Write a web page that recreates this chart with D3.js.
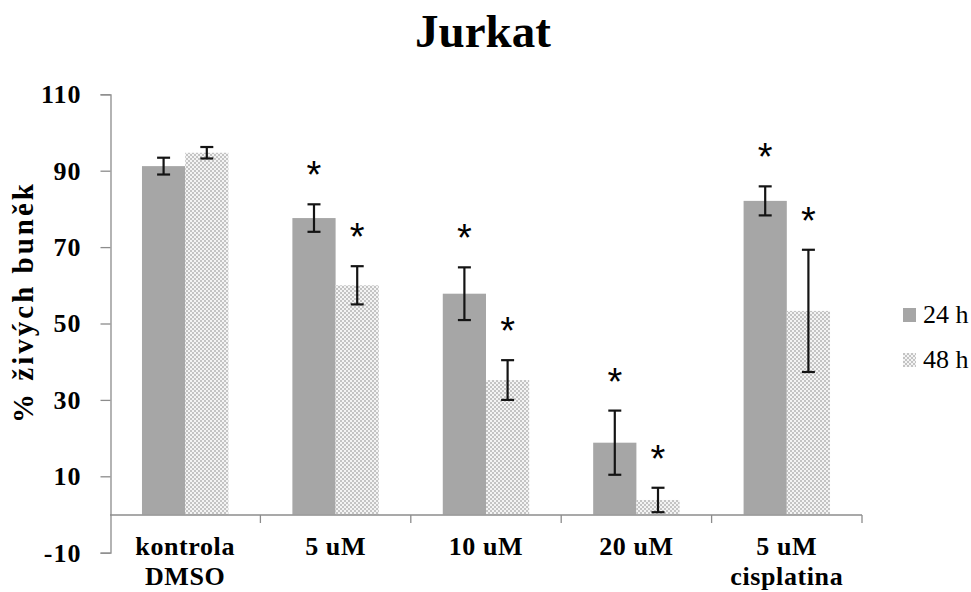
<!DOCTYPE html>
<html>
<head>
<meta charset="utf-8">
<script src="https://cdn.jsdelivr.net/npm/d3@7"></script>
<style>
  body { margin: 0; background: #fff; }
</style>
</head>
<body>
<div id="chart"></div>
<script>
// chart data
var categories = [["kontrola", "DMSO"], ["5 uM"], ["10 uM"], ["20 uM"], ["5 uM", "cisplatina"]];
var series = ["24 h", "48 h"];
var mean24 = [91.2, 77.6, 57.8, 18.8, 82.1];
var err24 = [2.2, 3.6, 6.9, 8.4, 3.8];
var mean48 = [94.7, 60.0, 35.2, 3.8, 53.3];
var err48 = [1.5, 5.0, 5.2, 3.2, 16.0];
var sig24 = [false, true, true, true, true];
var sig48 = [false, true, true, true, true];
var yTicks = [-10, 10, 30, 50, 70, 90, 110];

var width = 971, height = 592;
var serif = "'Liberation Serif', 'Times New Roman', serif";

var svg = d3.select("#chart").append("svg")
    .attr("width", width)
    .attr("height", height);

// checkered fill for the 48 h bars
var defs = svg.append("defs");
var pat = defs.append("pattern")
    .attr("id", "checker")
    .attr("patternUnits", "userSpaceOnUse")
    .attr("width", 4).attr("height", 4);
pat.append("rect").attr("width", 4).attr("height", 4).attr("fill", "#f4f4f4");
pat.append("rect").attr("width", 2).attr("height", 2).attr("fill", "#c4c4c4");
pat.append("rect").attr("x", 2).attr("y", 2).attr("width", 2).attr("height", 2).attr("fill", "#c4c4c4");

var colors = { "24 h": "#a6a6a6", "48 h": "url(#checker)" };

var x = d3.scaleBand()
    .domain(d3.range(categories.length))
    .range([110, 862])
    .padding(0);

var xs = d3.scaleBand()
    .domain(series)
    .range([0, x.bandwidth()])
    .paddingInner(0)
    .paddingOuter(0.74);

var y = d3.scaleLinear()
    .domain([-10, 110])
    .range([552.7, 94.3]);

// title
svg.append("text")
    .attr("x", 483).attr("y", 47)
    .attr("text-anchor", "middle")
    .style("font-family", serif)
    .style("font-size", "47px")
    .style("font-weight", "bold")
    .text("Jurkat");

// build rows for each bar
var rows = [];
categories.forEach(function(c, i) {
    rows.push({ i: i, s: "24 h", v: mean24[i], e: err24[i], sig: sig24[i] });
    rows.push({ i: i, s: "48 h", v: mean48[i], e: err48[i], sig: sig48[i] });
});

// bars
svg.append("g").selectAll("rect")
    .data(rows)
    .enter()
    .append("rect")
    .attr("x", function(d) { return x(d.i) + xs(d.s); })
    .attr("width", xs.bandwidth())
    .attr("y", function(d) { return y(d.v); })
    .attr("height", function(d) { return y(0) - y(d.v); })
    .attr("fill", function(d) { return colors[d.s]; });

// y axis
var yAxis = svg.append("g")
    .attr("transform", "translate(110.5,0)")
    .call(d3.axisLeft(y).tickValues(yTicks).tickSize(10).tickPadding(19)
        .tickFormat(function(d) { return String(d); }));
yAxis.select(".domain").attr("stroke", "#8c8c8c").attr("stroke-width", 1.3);
yAxis.selectAll(".tick line").attr("stroke", "#8c8c8c").attr("stroke-width", 1.3);
yAxis.selectAll(".tick text")
    .style("font-family", serif)
    .style("font-size", "26px")
    .style("font-weight", "bold")
    .style("letter-spacing", "1px")
    .attr("fill", "#000");

// x axis at zero
var xAxis = svg.append("g")
    .attr("transform", "translate(0," + (y(0) + 0.5) + ")");
xAxis.append("line")
    .attr("x1", x.range()[0]).attr("x2", x.range()[1])
    .attr("stroke", "#8c8c8c").attr("stroke-width", 1.3);
xAxis.selectAll("line.tk")
    .data(d3.range(1, categories.length + 1))
    .enter()
    .append("line")
    .attr("class", "tk")
    .attr("x1", function(d) { return x.range()[0] + d * x.step(); })
    .attr("x2", function(d) { return x.range()[0] + d * x.step(); })
    .attr("y1", 0).attr("y2", 8)
    .attr("stroke", "#8c8c8c").attr("stroke-width", 1.3);

// category labels
var labels = svg.append("g").selectAll("text")
    .data(categories)
    .enter()
    .append("text")
    .attr("text-anchor", "middle")
    .style("font-family", serif)
    .style("font-size", "26px")
    .style("font-weight", "bold")
    .style("letter-spacing", "0.6px")
    .attr("transform", function(d, i) { return "translate(" + (x(i) + x.bandwidth() / 2) + ",555)"; });
labels.selectAll("tspan")
    .data(function(d) { return d; })
    .enter()
    .append("tspan")
    .attr("x", 0)
    .attr("y", function(d, j) { return j * 30; })
    .text(function(d) { return d; });

// error bars
var eb = svg.append("g").selectAll("g")
    .data(rows)
    .enter()
    .append("g")
    .attr("transform", function(d) { return "translate(" + (x(d.i) + xs(d.s) + xs.bandwidth() / 2) + ",0)"; })
    .attr("stroke", "#141414")
    .attr("stroke-width", 2.2);
eb.append("line")
    .attr("y1", function(d) { return y(d.v + d.e); })
    .attr("y2", function(d) { return y(d.v - d.e); });
eb.append("line")
    .attr("x1", -6.5).attr("x2", 6.5)
    .attr("y1", function(d) { return y(d.v + d.e); })
    .attr("y2", function(d) { return y(d.v + d.e); });
eb.append("line")
    .attr("x1", -6.5).attr("x2", 6.5)
    .attr("y1", function(d) { return y(d.v - d.e); })
    .attr("y2", function(d) { return y(d.v - d.e); });

// significance stars
svg.append("g").selectAll("text")
    .data(rows.filter(function(d) { return d.sig; }))
    .enter()
    .append("text")
    .attr("x", function(d) { return x(d.i) + xs(d.s) + xs.bandwidth() / 2; })
    .attr("y", function(d) { return y(d.v + d.e) - 16; })
    .attr("text-anchor", "middle")
    .style("font-family", "'Liberation Sans', Arial, sans-serif")
    .style("font-size", "38px")
    .text("*");

// y axis title
svg.append("text")
    .attr("transform", "translate(33,302) rotate(-90)")
    .attr("text-anchor", "middle")
    .style("font-family", serif)
    .style("font-size", "29px")
    .style("font-weight", "bold")
    .style("letter-spacing", "3px")
    .text("% živých buněk");

// legend
var legend = svg.append("g").selectAll("g")
    .data(series)
    .enter()
    .append("g")
    .attr("transform", function(d, i) { return "translate(903," + (308 + i * 45) + ")"; });
legend.append("rect")
    .attr("width", 13).attr("height", 14)
    .attr("fill", function(d) { return colors[d]; });
legend.append("text")
    .attr("x", 20).attr("y", 15)
    .style("font-family", serif)
    .style("font-size", "26px")
    .text(function(d) { return d; });
</script>
</body>
</html>
